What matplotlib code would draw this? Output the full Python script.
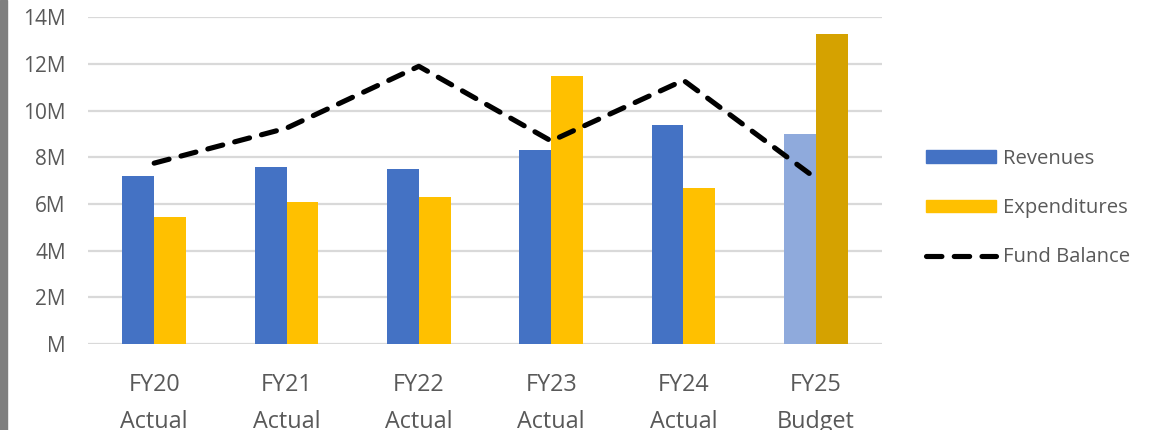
import matplotlib
matplotlib.use("Agg")
import matplotlib.pyplot as plt
from matplotlib.patches import Rectangle
from matplotlib.lines import Line2D
import numpy as np

# Fiscal-year data (values in millions of dollars)
years = ["FY20", "FY21", "FY22", "FY23", "FY24", "FY25"]
kinds = ["Actual", "Actual", "Actual", "Actual", "Actual", "Budget"]
revenues = [7.2, 7.6, 7.5, 8.3, 9.4, 9.0]
expenditures = [5.45, 6.08, 6.3, 11.5, 6.68, 13.3]
fund_balance = [7.75, 9.25, 11.9, 8.7, 11.3, 7.1]
y_ticks = [0, 2, 4, 6, 8, 10, 12, 14]
y_tick_labels = ["M", "2M", "4M", "6M", "8M", "10M", "12M", "14M"]

rev_colors = ["#4472C4"] * 5 + ["#8FAADC"]
exp_colors = ["#FFC000"] * 5 + ["#D5A200"]
text_color = "#595959"
grid_color = "#D9D9D9"

plt.rcParams["font.family"] = ["Open Sans", "DejaVu Sans"]

fig = plt.figure(figsize=(11.58, 4.30), dpi=100)
ax = fig.add_axes([88 / 1158, 86 / 430, 794 / 1158, 326.7 / 430])

x = np.arange(len(years))
w = 0.24
ax.bar(x - w / 2, revenues, width=w, color=rev_colors, zorder=2)
ax.bar(x + w / 2, expenditures, width=w, color=exp_colors, zorder=2)
ax.plot(x, fund_balance, color="black", lw=3.7, linestyle=(0, (3.0, 2.4)),
        dash_capstyle="round", solid_capstyle="round", zorder=3)

ax.set_xlim(-0.5, len(years) - 0.5)
ax.set_ylim(0, 14)
ax.set_yticks(y_ticks)
ax.set_yticklabels(y_tick_labels)
ax.set_xticks(x)
ax.set_xticklabels([f"{y}\n{k}" for y, k in zip(years, kinds)], linespacing=1.7)
ax.grid(axis="y", color=grid_color, lw=1.6, zorder=0)
ax.set_axisbelow(True)
for s in ax.spines.values():
    s.set_visible(False)
ax.tick_params(axis="y", length=0, pad=16, labelsize=15, labelcolor=text_color)
ax.tick_params(axis="x", length=0, pad=21, labelsize=16.8, labelcolor=text_color)

# Legend
handles = [
    Rectangle((0, 0), 1, 1, color="#4472C4"),
    Rectangle((0, 0), 1, 1, color="#FFC000"),
    Line2D([], [], color="black", lw=3.7, linestyle=(0, (3.0, 2.4)),
           dash_capstyle="round"),
]
leg = fig.legend(handles, ["Revenues", "Expenditures", "Fund Balance"],
                 loc="center left", bbox_to_anchor=(916 / 1158, 222 / 430),
                 frameon=False, fontsize=14.6, labelcolor=text_color,
                 handlelength=3.45, handleheight=0.58, handletextpad=0.36,
                 labelspacing=1.45, borderpad=0)

# Grey strip along the left edge
fig.patches.append(Rectangle((0, 0), 7 / 1158, 1, transform=fig.transFigure,
                             color="#7F7F7F", zorder=5))

fig.savefig("out.png", dpi=100)
